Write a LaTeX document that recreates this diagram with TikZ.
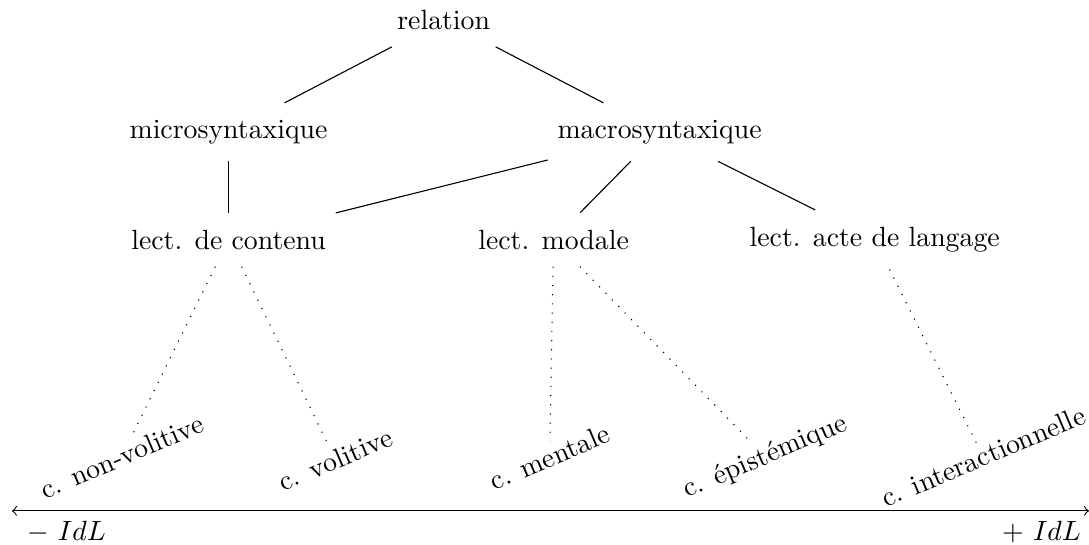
\documentclass[tikz,border=0pt]{standalone}
\usepackage[svgnames]{xcolor}
\usepackage{amssymb}
\usepackage{tikz}

\begin{document}
\begin{tikzpicture}[every node/.style={inner ysep=6pt},
            leaf/.style={rotate=23,inner sep=1.5pt},
            dotline/.style={dash pattern=on 0.4pt off 2.9pt}]
            \useasboundingbox (0,0) rectangle (13.77,-6.89);
            \node (1) at (5.61,-0.25) {relation};
            \node (2) at (2.89,-1.67) {microsyntaxique};
            \node (3) at (8.34,-1.67) {macrosyntaxique};
            \node (4) at (2.89,-3.03) {lect. de contenu};
            \node (5) at (7.00,-3.03) {lect. modale};
            \node (6) at (11.06,-3.03) {lect. acte de langage};
            \node[leaf] (7) at (1.54,-5.77) {c. non-volitive};
            \node[leaf] (8) at (4.24,-5.81) {c. volitive};
            \node[leaf] (9) at (6.95,-5.78) {c. mentale};
            \node[leaf] (10) at (9.68,-5.78) {c. épistémique};
            \node[leaf] (11) at (12.43,-5.77) {c. interactionnelle};
            \coordinate (lo) at (0.15,-6.46);
            \coordinate (hi) at (13.77,-6.46);
            \node (12) at (0.84,-6.73) {$-\ IdL$};
            \node (13) at (13.17,-6.73) {$+\ IdL$};
            \draw (1) -- (2);
            \draw (1) -- (3);
            \draw (2) -- (4);
            \draw (3) -- (4);
            \draw (3) -- (5);
            \draw (3) -- (6);
            \draw[dotline] (4) -- (7);
            \draw[dotline] (4) -- (8);
            \draw[dotline] (5) -- (9);
            \draw[dotline] (5) -- (10);
            \draw[dotline] (6) -- (11);
            \draw[<->] (lo) -- (hi);
        \end{tikzpicture}
\end{document}
